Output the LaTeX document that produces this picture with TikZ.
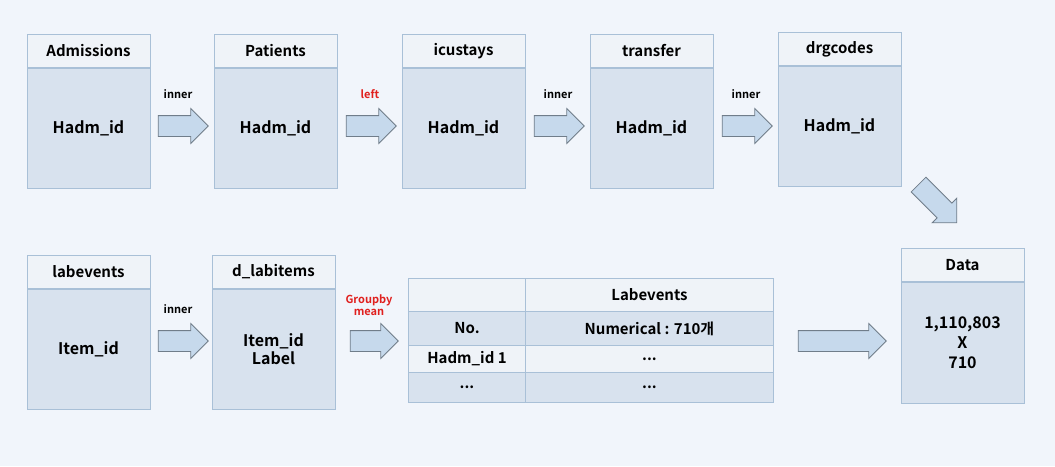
\documentclass[tikz,border=0pt]{standalone}
\usepackage{fontspec}
\setmainfont{Noto Sans CJK KR}[BoldFont={Noto Sans CJK KR Bold}]
\usetikzlibrary{shapes.arrows}
\definecolor{bgc}{HTML}{F1F5FB}
\definecolor{hdc}{HTML}{EFF3F8}
\definecolor{bdc}{HTML}{D8E2EE}
\definecolor{lnc}{HTML}{A9C0D7}
\definecolor{arf}{HTML}{C6D9EC}
\definecolor{ard}{HTML}{707D8A}
\definecolor{redc}{HTML}{E0201E}
\tikzset{
  hdr/.style={draw=lnc, line width=1pt, fill=hdc, minimum width=123pt, minimum height=33pt, font=\fontsize{15}{18}\selectfont\bfseries, inner sep=0pt},
  bdy/.style={draw=lnc, line width=1pt, fill=bdc, minimum width=123pt, minimum height=120pt, font=\fontsize{16}{20}\selectfont\bfseries, inner sep=0pt, align=center},
  blk/.style={single arrow, draw=ard, fill=arf, line width=0.8pt, minimum height=50pt, single arrow head extend=7pt, minimum width=34pt, inner xsep=0pt, inner ysep=10pt, text width=0pt},
  lab/.style={font=\fontsize{11}{13}\selectfont\bfseries, inner sep=0pt},
  cell/.style={draw=lnc, line width=1pt, inner sep=0pt, font=\fontsize{15}{18}\selectfont\bfseries},
}
\begin{document}
\begin{tikzpicture}[x=1pt,y=-1pt]
\useasboundingbox[fill=bgc] (0,0) rectangle (1055,466);
% top row
\foreach \n/\t/\x/\y in {adm/Admissions/88.5/34, pat/Patients/275.5/34, icu/icustays/463.5/34, tra/transfer/651.5/34, drg/drgcodes/839.5/32}{
  \node[hdr, anchor=north] (\n h) at (\x,\y) {\t};
  \node[bdy, anchor=north] (\n b) at (\n h.south) {Hadm\_id};
}
\node[blk] (a1) at (178,126) {};
\node[blk] (a2) at (366,126) {};
\node[blk] (a3) at (554,126) {};
\node[blk] (a4) at (742,126) {};
\node[lab] (l1) at (178,94) {inner};
\node[lab, text=redc] (l2) at (370,94) {left};
\node[lab] (l3) at (558,94) {inner};
\node[lab] (l4) at (746,94) {inner};
\node[blk, rotate=-45, minimum height=54pt] (a5) at (934,200) {};
% bottom row
\node[hdr, anchor=north] (labh) at (88.5,255) {labevents};
\node[bdy, anchor=north] (labb) at (labh.south) {Item\_id};
\node[hdr, anchor=north] (dlah) at (273.5,255) {d\_labitems};
\node[bdy, anchor=north] (dlab) at (dlah.south) {Item\_id\\[-2pt]Label};
\node[blk] (a6) at (178,341) {};
\node[lab] (l6) at (178,309) {inner};
\node[blk, minimum height=48pt] (a7) at (369,341) {};
\node[lab, text=redc, align=center] (l7) at (369,305) {Groupby\\[-1pt]mean};
% table
\node[cell, fill=hdc, minimum width=117pt, minimum height=33pt, anchor=north west] (t11) at (408,278) {};
\node[cell, fill=hdc, minimum width=248pt, minimum height=33pt, anchor=north west] (t12) at (525,278) {Labevents};
\node[cell, fill=bdc, minimum width=117pt, minimum height=34pt, anchor=north west] (t21) at (408,311) {No.};
\node[cell, fill=bdc, minimum width=248pt, minimum height=34pt, anchor=north west] (t22) at (525,311) {Numerical : 710개};
\node[cell, fill=hdc, minimum width=117pt, minimum height=27pt, anchor=north west] (t31) at (408,345) {Hadm\_id 1};
\node[cell, fill=hdc, minimum width=248pt, minimum height=27pt, anchor=north west] (t32) at (525,345) {...};
\node[cell, fill=bdc, minimum width=117pt, minimum height=30pt, anchor=north west] (t41) at (408,372) {...};
\node[cell, fill=bdc, minimum width=248pt, minimum height=30pt, anchor=north west] (t42) at (525,372) {...};
\node[blk, minimum height=88pt] (a8) at (837,341) {};
% data
\node[hdr, anchor=north] (dath) at (962.5,248) {Data};
\node[bdy, anchor=north, minimum height=121pt] (datb) at (dath.south) {1,110,803\\[0pt]X\\[0pt]710};
\end{tikzpicture}
\end{document}
